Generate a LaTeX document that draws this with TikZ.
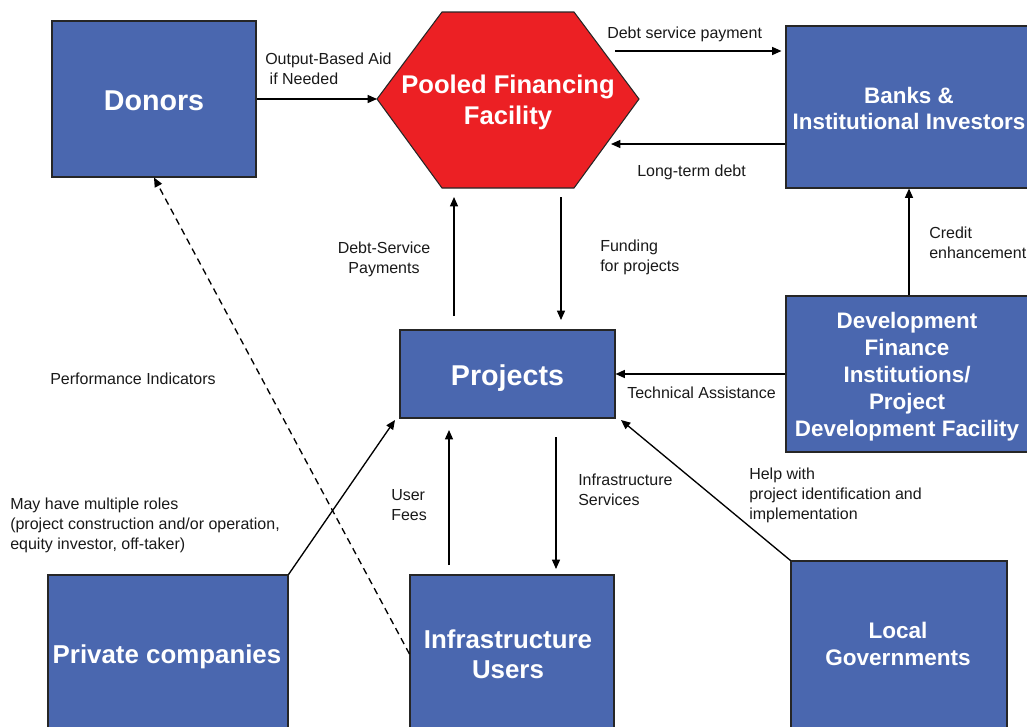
\documentclass[tikz,border=0pt]{standalone}
\usepackage{fontspec}
\setmainfont{Liberation Sans}
\usetikzlibrary{arrows.meta,calc}

\definecolor{boxblue}{RGB}{74,103,175}
\definecolor{poolred}{RGB}{236,32,36}

\begin{document}
\begin{tikzpicture}[x=0.75pt,y=-0.75pt,
  box/.style={draw=black!85,line width=0.8pt,fill=boxblue,inner sep=0pt},
  btext/.style={text=white,align=center,inner sep=0pt},
  lbl/.style={inner sep=0pt,align=left,text=black!90,yshift=-1.2pt,
    font=\fontsize{12}{15}\selectfont},
  arr/.style={line width=1pt,-{Triangle[length=7pt,width=6pt]}},
  dasharr/.style={arr,dashed,dash pattern=on 5pt off 3.5pt}]
\useasboundingbox (0,0) rectangle (1027,726);

% blue boxes
\node[box,minimum width=153pt,minimum height=117pt] (donors) at (154,99) {};
\node[box,minimum width=184.5pt,minimum height=121.5pt] (banks) at (909,107) {};
\node[box,minimum width=184.5pt,minimum height=117pt] (dfi) at (909,374) {};
\node[box,minimum width=161.25pt,minimum height=66pt] (projects) at (507.5,374) {};
\node[box,minimum width=180pt,minimum height=118.5pt] (pc) at (168,654) {};
\node[box,minimum width=153pt,minimum height=118.5pt] (iu) at (512,654) {};
\node[box,minimum width=162pt,minimum height=127.5pt] (lg) at (899,646) {};

% box captions
\node[btext,font=\bfseries\fontsize{21.5}{26}\selectfont] (donorsT) at (154,101) {Donors};
\node[btext,font=\bfseries\fontsize{16.8}{19.5}\selectfont] (banksT) at (909,108)
  {Banks \&\\Institutional Investors};
\node[btext,font=\bfseries\fontsize{16.8}{20.25}\selectfont] (dfiT) at (907,377)
  {Development\\Finance\\Institutions/\\Project\\Development Facility};
\node[btext,font=\bfseries\fontsize{21.5}{26}\selectfont] (projectsT) at (507.5,378) {Projects};
\node[btext,font=\bfseries\fontsize{19.4}{22.5}\selectfont] (pcT) at (167,657) {Private companies};
\node[btext,font=\bfseries\fontsize{19.4}{22.5}\selectfont] (iuT) at (508,654)
  {Infrastructure\\Users};
\node[btext,font=\bfseries\fontsize{16.9}{20.25}\selectfont] (lgT) at (898,644)
  {Local\\Governments};

% pooled financing facility (hexagon)
\coordinate (pffW) at (377,99);
\coordinate (pffNW) at (442,12);
\coordinate (pffNE) at (574,12);
\coordinate (pffE) at (639,99);
\coordinate (pffSE) at (574,188);
\coordinate (pffSW) at (442,188);
\draw[fill=poolred,draw=black!85,line width=0.8pt]
  (pffW) -- (pffNW) -- (pffNE) -- (pffE) -- (pffSE) -- (pffSW) -- cycle;
\node[btext,font=\bfseries\fontsize{19.2}{23.25}\selectfont] (pff) at (508,102.5)
  {Pooled Financing\\Facility};

% connector end points
\coordinate (dspS) at (615,51);
\coordinate (ltdE) at (611,144);
\coordinate (fundS) at (561,197);
\coordinate (fundE) at (561,320);
\coordinate (dsS) at (454,316);
\coordinate (dsE) at (454,197);
\coordinate (pcE) at (395,420);
\coordinate (ufS) at (449,565);
\coordinate (ufE) at (449,430);
\coordinate (isS) at (556,437);
\coordinate (isE) at (556,569);
\coordinate (lgE) at (621,420);

% connectors
\draw[arr] (donors.east) -- (pffW);
\draw[arr,shorten >=3pt] (dspS) -- (dspS -| banks.west);
\draw[arr] (ltdE -| banks.west) -- (ltdE);
\draw[arr] (fundS) -- (fundE);
\draw[arr] (dsS) -- (dsE);
\draw[arr] (dfi.north) -- (banks.south);
\draw[arr] (dfi.west) -- (projects.east);
\draw[arr] (pc.north east) -- (pcE);
\draw[arr] (ufS) -- (ufE);
\draw[arr] (isS) -- (isE);
\draw[arr] (lg.north west) -- (lgE);
\draw[dasharr] (iu.west) -- (donors.south);

% connector labels
\node[lbl,anchor=west] (lOBA) at (265,67.5) {Output-Based Aid\\\ if Needed};
\node[lbl,anchor=west] (lDSP) at (607,33) {Debt service payment};
\node[lbl,anchor=west] (lLTD) at (637,171) {Long-term debt};
\node[lbl,anchor=west] (lCE) at (929,241) {Credit\\enhancement};
\node[lbl,anchor=west] (lFP) at (600,256) {Funding\\for projects};
\node[lbl,align=center] (lDS) at (384,258) {Debt-Service\\Payments};
\node[lbl,anchor=west] (lTA) at (627,391) {Technical Assistance};
\node[lbl,anchor=west] (lPI) at (50,377) {Performance Indicators};
\node[lbl,anchor=west] (lMR) at (10,523.5)
  {May have multiple roles\\(project construction and/or operation,\\equity investor, off-taker)};
\node[lbl,anchor=west] (lUF) at (391,503) {User\\Fees};
\node[lbl,anchor=west] (lIS) at (578,488) {Infrastructure\\Services};
\node[lbl,anchor=west] (lHW) at (749,493.5)
  {Help with\\project identification and\\implementation};
\end{tikzpicture}
\end{document}
